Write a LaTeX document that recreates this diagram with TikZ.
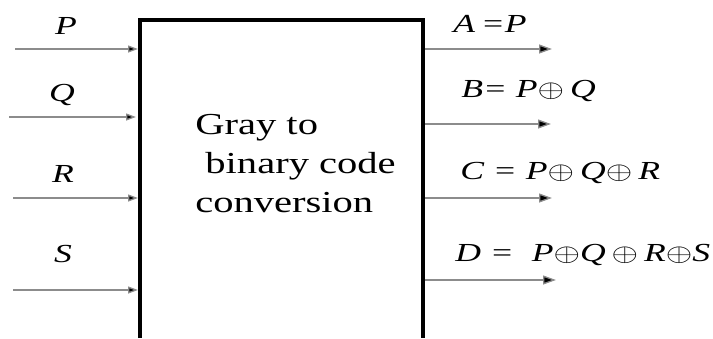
\documentclass[tikz,border=0pt]{standalone}
\usepackage{fontspec}
\setmainfont{Liberation Serif}
\usetikzlibrary{arrows.meta}
\tikzset{
  sig/.style={draw=black!45, line width=1.3pt, -{Triangle[length=10pt,width=7pt,fill=black]}},
  outsig/.style={sig, -{Triangle[length=13pt,width=9pt,fill=black]}},
  lbl/.style={font=\fontsize{26}{28}\selectfont\itshape, inner sep=0pt, xscale=1.37},
  boxtxt/.style={font=\fontsize{30.5}{39}\selectfont, align=left, inner sep=0pt, xscale=1.33}
}
\begin{document}
\begin{tikzpicture}[x=1pt,y=-1pt]
\useasboundingbox (0,0) rectangle (713,338);
% box (open at the bottom)
\coordinate (bl) at (140,338);
\coordinate (tl) at (140,20);
\coordinate (tr) at (423,20);
\coordinate (br) at (423,338);
\draw[line width=4pt, line join=miter] (bl) -- (tl) -- (tr) -- (br);
\node[boxtxt, anchor=north west] (txt) at (195,114) {Gray to\\\ binary code\\conversion};
% inputs
\coordinate (p0) at (15,49);  \coordinate (p1) at (138,49);
\coordinate (q0) at (9,117);  \coordinate (q1) at (136,117);
\coordinate (r0) at (13,198); \coordinate (r1) at (138,198);
\coordinate (s0) at (13,290); \coordinate (s1) at (138,290);
\draw[sig] (p0) -- (p1);
\draw[sig] (q0) -- (q1);
\draw[sig] (r0) -- (r1);
\draw[sig] (s0) -- (s1);
\node[lbl] (lp) at (66,26) {P};
\node[lbl] (lq) at (62,95) {Q};
\node[lbl] (lr) at (63,174) {R};
\node[lbl] (ls) at (63,254) {S};
% outputs
\coordinate (a0) at (425,49);  \coordinate (a1) at (552,49);
\coordinate (b0) at (425,124); \coordinate (b1) at (551,124);
\coordinate (c0) at (425,198); \coordinate (c1) at (552,198);
\coordinate (d0) at (425,280); \coordinate (d1) at (556,280);
\draw[outsig] (a0) -- (a1);
\draw[outsig] (b0) -- (b1);
\draw[outsig] (c0) -- (c1);
\draw[outsig] (d0) -- (d1);
\node[lbl, anchor=west] (la) at (453,24) {A\,=P};
\node[lbl, anchor=west] (lb) at (461,91) {B= P$\oplus$\,Q};
\node[lbl, anchor=west] (lc) at (460,173) {C = P$\oplus$\,Q$\oplus$\,R};
\node[lbl, anchor=west] (ld) at (455,255) {D =\ \ P$\oplus$Q\,$\oplus$\,R$\oplus$S};
\end{tikzpicture}
\end{document}
